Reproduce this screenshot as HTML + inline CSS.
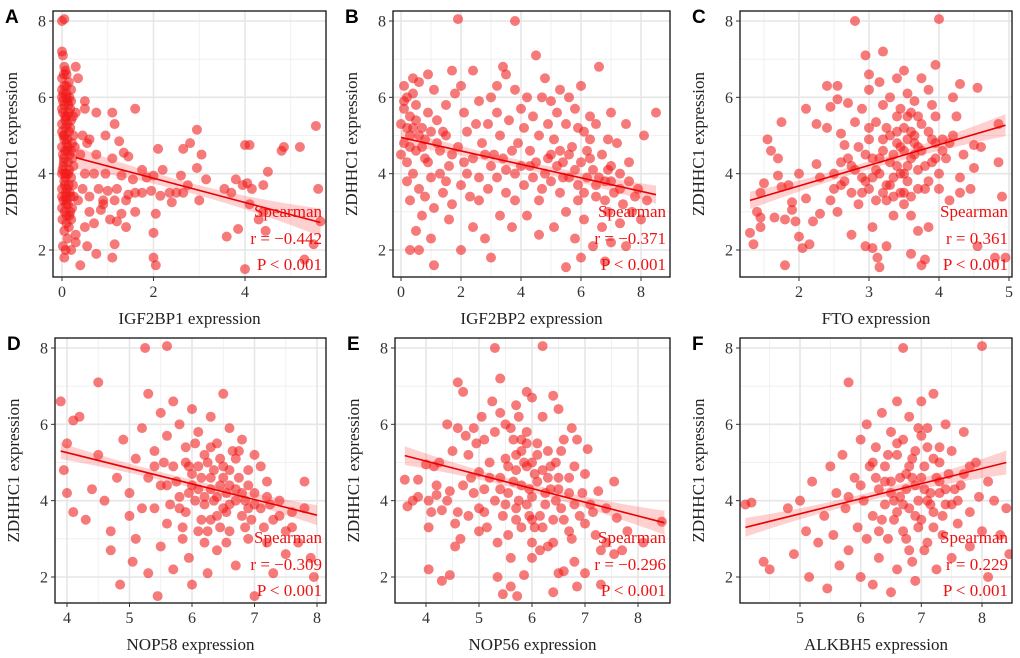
<!DOCTYPE html>
<html><head><meta charset="utf-8">
<style>
html,body{margin:0;padding:0;background:#fff;}
svg{display:block;font-family:"Liberation Serif",serif;}
.lt{font-family:"Liberation Sans",sans-serif;font-weight:bold;font-size:19px;fill:#000;}
</style></head>
<body>
<svg id="fig" width="1020" height="658" viewBox="0 0 1020 658"></svg>
<script>
// ---- data ----
const ptsA=[[0,8],[0.05,8.05],[0,7.2],[0.02,7.1],[0.05,6.8],[0.08,6.7],[0.1,6.6],[0,6.5],[0.15,6.4],[0.05,6.3],[0.2,6.2],[0.1,6.1],[0,6],[0.12,5.9],[0.05,5.8],[0.18,5.7],[0.02,5.6],[0.1,5.5],[0.2,5.4],[0,5.3],[0.08,5.2],[0.15,5.1],[0.03,5],[0.12,4.9],[0.22,4.8],[0,4.7],[0.07,4.6],[0.17,4.5],[0.04,4.4],[0.13,4.3],[0.25,4.2],[0.01,4.1],[0.1,4],[0.2,3.9],[0.05,3.8],[0.15,3.7],[0,3.6],[0.09,3.5],[0.19,3.4],[0.03,3.3],[0.13,3.2],[0.22,3.1],[0.06,3],[0.16,2.9],[0.01,2.8],[0.1,2.7],[0.05,2.5],[0.12,2.3],[0.02,2.1],[0.08,2.0],[0.05,1.8],[0.2,2.0],[0.1,6.3],[0.03,6.1],[0.14,5.8],[0.07,5.5],[0,5.1],[0.1,4.8],[0.2,4.6],[0.04,4.3],[0.14,4.0],[0.06,3.7],[0.17,3.5],[0.1,3.3],[0,3.1],[0.2,2.8],[0.12,5.3],[0.05,4.9],[0.16,4.1],[0.08,3.9],[0.02,4.5],[0.1,6.0],[0.18,5.2],[0.25,5.0],[0.3,6.8],[0.35,6.5],[0.3,5.6],[0.02,5.9],[0.07,5.4],[0.12,4.6],[0.03,4.2],[0.09,3.2],[0.15,2.6],[0.0,6.2],[0.06,4.0],[0.11,3.6],[0.18,3.0],[0.24,3.7],[0.22,4.4],[0.0,5.7],[0.05,5.0],[0.13,4.7],[0.0,4.0],[0.08,3.4],[0.15,5.6],[0.2,5.9],[0.0,3.4],[0.1,2.9],[0.26,3.4],[0.28,4.7],[0.04,6.6],[0.16,6.0],[0.24,5.5],
[0.5,5.9],[0.5,5.7],[0.75,5.6],[1.1,5.6],[1.6,5.7],[1.15,5.3],[0.95,5.0],[0.45,5.0],[0.6,4.9],[0.55,4.8],[0.75,4.5],[1.25,4.85],[1.35,4.55],[1.45,4.45],[1.1,4.4],[0.4,4.5],[0.5,4.0],[0.7,4.0],[0.95,4.0],[1.3,3.95],[1.55,3.85],[1.75,4.1],[2.1,4.65],[2.2,4.1],[1.85,3.9],[2.0,3.95],[2.65,4.65],[2.8,4.8],[2.6,3.95],[2.95,4.15],[3.05,4.5],[2.95,5.15],[3.15,3.85],[2.5,3.5],[2.35,3.5],[2.15,3.42],[1.95,3.55],[1.75,3.5],[1.6,3.5],[1.45,3.45],[1.2,3.6],[1.0,3.55],[0.9,3.3],[0.8,3.6],[0.6,3.4],[0.45,3.6],[0.35,3.3],[0.9,3.2],[0.85,3.05],[1.15,3.3],[1.4,3.3],[1.6,3.0],[1.3,2.95],[1.2,2.75],[1.05,2.8],[0.6,3.0],[0.7,2.7],[0.3,2.4],[0.5,2.6],[0.3,2.2],[0.55,2.1],[0.75,1.9],[1.1,1.8],[0.4,1.6],[1.4,2.6],[1.15,2.15],[2.0,2.45],[2.0,1.8],[2.05,1.6],[2.05,2.95],[2.4,3.25],[2.65,3.5],[2.75,3.7],[3.0,3.3],[3.55,3.6],[3.6,2.35],[3.7,3.5],[3.8,3.85],[3.85,2.55],[3.95,3.7],[4.0,4.75],[4.1,4.75],[4.05,3.75],[4.15,3.6],[4.1,3.2],[4.0,1.5],[4.4,3.7],[4.45,2.5],[4.5,4.05],[4.8,4.6],[4.85,4.7],[5.2,4.7],[5.55,5.25],[5.6,3.6],[5.5,2.15],[5.65,2.75],[5.3,1.75],[4.4,3.0],[4.3,2.8]];
const ptsB=[[0.1,5.7],[0.3,5.5],[0.5,5.8],[0.2,6.0],[0.6,6.4],[0.9,6.6],[1.1,6.2],[0.4,6.5],[0.7,5.2],[0.3,5.0],[0.1,4.8],[0.5,4.6],[0.8,4.9],[1.2,5.4],[1.5,5.8],[1.8,6.1],[2.0,6.3],[1.7,6.7],[2.4,6.7],[2.1,5.6],[2.6,5.9],[3.0,6.0],[3.2,6.3],[3.5,6.6],[3.8,6.2],[4.2,6.0],[4.5,7.1],[3.4,6.8],[1.9,8.05],[3.8,8.0],[4.8,6.5],[5.0,5.9],[5.3,6.2],[5.6,6.0],[6.0,6.3],[6.3,5.5],[6.6,6.8],[7.0,5.6],[7.5,5.3],[8.1,5.0],[8.5,5.6],[0.2,4.3],[0.4,4.0],[0.6,3.6],[0.9,4.3],[1.0,3.9],[1.3,4.6],[1.5,5.0],[1.6,4.2],[1.9,4.7],[2.2,5.1],[2.4,4.4],[2.7,4.8],[2.9,5.3],[3.1,4.5],[3.3,5.0],[3.6,5.4],[3.9,4.8],[4.1,5.2],[4.3,4.6],[4.6,5.0],[4.9,4.4],[5.1,4.9],[5.4,4.3],[5.7,4.7],[5.9,5.2],[6.2,4.6],[6.4,4.1],[6.7,4.5],[7.0,4.2],[7.3,4.0],[7.6,3.8],[7.9,3.6],[8.2,3.3],[0.3,3.3],[0.7,2.9],[1.1,3.1],[1.4,3.5],[1.7,3.2],[2.0,3.7],[2.3,3.4],[2.6,3.9],[2.9,3.6],[3.2,3.9],[3.5,3.5],[3.8,4.0],[4.1,3.7],[4.4,3.9],[4.7,3.6],[5.0,3.8],[5.3,3.5],[5.6,3.9],[5.9,3.7],[6.2,3.9],[6.5,3.4],[6.8,3.8],[7.1,3.5],[7.4,3.2],[7.7,3.0],[8.0,2.8],[0.5,2.5],[0.3,2.0],[0.6,2.0],[1.0,2.3],[1.6,2.8],[2.4,2.6],[2.8,2.3],[3.3,2.9],[3.7,2.6],[4.2,2.9],[4.6,2.4],[5.1,2.6],[5.5,3.0],[5.8,2.3],[6.1,2.8],[6.4,2.1],[6.7,2.6],[7.0,2.2],[7.3,2.7],[7.5,2.1],[5.5,1.55],[6.0,1.8],[6.8,1.7],[3.0,1.8],[2.0,2.0],[1.1,1.6],[4.0,5.7],[4.4,5.5],[4.7,6.0],[5.2,5.6],[5.5,5.3],[5.8,5.7],[6.1,5.1],[6.5,5.3],[6.9,4.9],[7.2,4.8],[3.0,4.2],[3.4,4.4],[4.8,4.0],[5.2,4.2],[6.0,4.3],[6.6,3.9],[2.2,4.0],[1.3,4.0],[0.8,4.4],[0.0,5.3],[0.0,4.5],[0.2,3.8],[0.4,5.2],[0.9,5.6],[1.4,5.1],[2.5,5.3],[3.7,4.6],[4.5,4.3],[5.6,4.5],[6.3,4.4],[6.9,4.1],[7.6,4.3],[0.1,6.3],[1.2,4.8],[2.8,4.5],[4.0,4.2],[5.3,4.6],[6.8,3.3],[0.2,5.2],[0.5,5.4],[0.3,4.7],[0.7,4.7],[0.1,5.9],[0.4,6.1],[0.6,5.0],[1.0,5.1],[1.7,4.5],[2.1,4.3],[3.5,4.1],[4.3,4.2],[5.0,4.5],[5.8,4.1],[6.1,3.5],[6.5,3.7],[7.0,3.8],[7.3,3.6],[7.8,3.4],[6.3,4.9],[5.4,3.9],[4.6,3.3],[3.8,3.3],[2.6,3.3],[1.5,3.8],[0.8,3.4],[5.9,3.3],[6.9,3.0],[4.9,5.3],[3.2,5.6]];
const ptsC=[[1.3,2.45],[1.35,2.15],[1.4,3.0],[1.45,3.5],[1.45,2.85],[1.5,3.75],[1.45,2.6],[1.55,4.9],[1.6,4.6],[1.65,2.85],[1.7,4.4],[1.7,3.95],[1.75,5.35],[1.75,3.65],[1.8,2.8],[1.8,1.6],[1.85,3.7],[1.9,3.25],[1.9,3.05],[1.95,2.75],[2.0,4.0],[2.0,2.35],[2.05,2.05],[2.1,5.7],[2.1,3.35],[2.15,2.15],[2.2,2.75],[2.25,5.3],[2.25,4.25],[2.3,3.9],[2.3,2.95],[2.4,6.3],[2.4,5.2],[2.45,5.75],[2.45,3.3],[2.5,4.0],[2.55,6.3],[2.55,5.95],[2.55,3.0],[2.6,5.05],[2.6,3.7],[2.65,4.75],[2.7,5.85],[2.7,4.4],[2.75,2.4],[2.75,3.5],[2.8,8.0],[2.8,5.35],[2.8,4.1],[2.85,4.7],[2.85,3.2],[2.9,5.7],[2.9,3.9],[2.95,7.1],[2.95,2.1],[2.95,4.5],[3.0,6.6],[3.0,6.2],[3.0,4.9],[3.0,3.6],[3.05,2.6],[3.05,2.05],[3.1,5.35],[3.1,4.1],[3.1,3.3],[3.12,1.8],[3.15,1.55],[3.15,6.4],[3.2,7.2],[3.2,5.8],[3.2,4.6],[3.25,3.7],[3.25,2.1],[3.3,6.0],[3.3,5.0],[3.3,4.3],[3.35,3.4],[3.35,2.9],[3.4,6.5],[3.4,5.5],[3.4,4.8],[3.45,4.0],[3.5,6.7],[3.5,5.2],[3.5,4.6],[3.5,3.2],[3.55,6.1],[3.55,4.9],[3.55,3.8],[3.6,5.6],[3.6,4.4],[3.6,2.9],[3.6,1.9],[3.65,5.9],[3.65,5.0],[3.7,4.7],[3.7,3.6],[3.7,2.5],[3.75,1.6],[3.75,6.5],[3.75,5.3],[3.8,4.2],[3.8,1.75],[3.85,6.2],[3.85,3.8],[3.85,2.6],[3.9,5.8],[3.9,4.9],[3.95,5.5],[3.95,4.4],[3.95,6.85],[4.0,8.05],[4.0,4.0],[4.0,3.6],[4.05,4.9],[4.1,4.4],[4.15,3.3],[4.2,5.0],[4.2,6.0],[4.25,5.5],[4.3,6.35],[4.3,3.9],[4.3,3.5],[4.35,4.5],[4.45,3.6],[4.5,4.75],[4.5,4.15],[4.55,6.25],[4.6,4.7],[4.85,4.3],[4.85,5.3],[4.9,3.4],[4.95,1.8],[4.8,1.8],[4.55,2.1],[3.3,3.7],[3.45,5.7],[3.2,4.9],[2.65,3.8],[3.55,4.2],[3.45,4.7],[3.6,5.1],[3.4,4.2],[3.15,4.0],[3.5,3.5],[3.65,4.5],[3.25,5.2],[3.05,4.4],[2.9,3.5],[3.35,4.5],[3.75,4.6],[3.55,5.5],[3.7,4.1],[3.25,3.3],[3.35,3.9],[3.45,3.5],[3.6,3.4],[3.8,3.6],[3.95,4.8],[3.85,5.1],[3.7,5.5],[3.4,5.1],[3.15,4.4],[2.95,3.8],[2.75,4.2],[3.05,3.9],[3.5,4.0],[3.65,4.8],[4.05,4.6],[4.15,4.8],[3.9,4.3],[2.5,3.6],[2.6,4.3],[3.2,3.5],[3.0,5.2]];
const ptsD=[[3.9,6.6],[3.95,4.8],[4.0,4.2],[4.0,5.5],[4.1,6.1],[4.2,6.2],[4.1,3.7],[4.3,3.5],[4.4,4.3],[4.5,7.1],[4.5,5.2],[4.6,4.0],[4.7,3.2],[4.7,2.7],[4.8,4.6],[4.85,1.8],[4.9,5.6],[5.0,4.2],[5.0,3.6],[5.05,2.4],[5.1,5.1],[5.1,3.0],[5.2,5.9],[5.25,8.0],[5.3,6.8],[5.3,4.6],[5.3,2.1],[5.4,5.3],[5.4,3.8],[5.45,1.5],[5.5,6.3],[5.5,4.4],[5.5,2.8],[5.6,8.05],[5.6,5.7],[5.6,3.4],[5.7,6.6],[5.7,4.9],[5.7,2.2],[5.8,6.0],[5.8,4.1],[5.85,3.0],[5.9,5.4],[5.9,3.7],[5.95,2.5],[6.0,6.4],[6.0,4.7],[6.0,1.8],[6.1,5.8],[6.1,4.3],[6.1,3.2],[6.2,5.2],[6.2,3.9],[6.25,2.1],[6.3,6.2],[6.3,4.6],[6.3,3.5],[6.4,5.5],[6.4,4.1],[6.4,2.7],[6.5,6.8],[6.5,4.9],[6.5,3.8],[6.6,5.9],[6.6,4.4],[6.6,3.2],[6.7,5.1],[6.7,4.0],[6.7,2.3],[6.8,5.6],[6.8,3.6],[6.9,4.8],[6.9,3.0],[7.0,5.2],[7.0,4.2],[7.0,1.5],[7.1,3.8],[7.2,4.5],[7.2,2.9],[7.3,3.5],[7.3,2.1],[7.4,4.0],[7.5,3.2],[7.5,2.6],[7.6,3.7],[7.7,2.9],[7.8,3.8],[7.8,4.5],[7.9,2.5],[7.95,2.0],[5.95,4.9],[6.15,4.6],[6.35,4.0],[6.55,3.7],[6.05,5.5],[6.25,5.0],[5.75,4.5],[6.45,4.4],[6.75,4.6],[6.85,4.0],[5.85,3.3],[6.2,2.9],[6.05,4.0],[6.35,4.8],[6.55,4.2],[6.95,3.5],[5.65,3.9],[6.15,3.5],[6.65,5.3],[7.1,4.9],[5.55,5.0],[6.45,3.3],[6.9,4.4],[7.25,3.9],[6.1,4.9],[6.3,4.3],[6.5,4.6],[6.7,4.3],[6.2,4.1],[6.0,4.4],[5.8,3.8],[6.4,3.6],[6.6,3.9],[6.8,4.2],[7.0,3.9],[7.2,4.1],[7.4,3.6],[6.9,3.8],[6.6,4.8],[6.3,5.4],[5.9,5.0],[5.6,4.4],[5.4,4.9],[5.2,3.8],[6.25,3.2],[6.55,2.9],[6.85,3.3],[7.15,3.3],[7.6,3.3],[5.95,4.2],[6.45,5.1],[6.75,5.3]];
const ptsE=[[3.6,4.55],[3.65,3.85],[3.75,4.0],[3.85,4.55],[3.85,4.1],[4.0,4.95],[4.05,4.0],[4.05,3.3],[4.05,2.2],[4.1,3.7],[4.15,4.9],[4.2,4.4],[4.2,4.15],[4.25,5.0],[4.3,3.75],[4.3,1.9],[4.4,6.0],[4.4,4.0],[4.45,4.25],[4.45,2.05],[4.5,5.3],[4.55,3.4],[4.55,2.8],[4.6,7.1],[4.6,5.9],[4.6,3.7],[4.65,3.0],[4.7,6.85],[4.7,4.4],[4.75,5.7],[4.8,5.2],[4.8,3.6],[4.85,4.6],[4.9,5.9],[4.9,4.2],[4.95,5.5],[5.0,4.75],[5.0,3.8],[5.0,3.2],[5.05,6.2],[5.1,5.6],[5.1,4.3],[5.15,3.3],[5.2,5.0],[5.25,6.6],[5.3,8.0],[5.3,5.8],[5.3,4.0],[5.35,2.9],[5.35,2.0],[5.4,7.2],[5.4,6.3],[5.4,4.6],[5.45,3.6],[5.45,1.55],[5.5,6.0],[5.5,5.1],[5.55,4.2],[5.6,2.5],[5.6,1.75],[5.65,5.6],[5.7,6.5],[5.7,4.8],[5.7,3.8],[5.72,1.5],[5.75,6.2],[5.8,5.3],[5.8,4.4],[5.8,3.3],[5.85,2.05],[5.9,6.85],[5.9,5.8],[5.9,4.9],[5.95,3.6],[6.0,6.7],[6.0,5.0],[6.0,4.1],[6.0,2.5],[6.05,3.3],[6.1,5.5],[6.1,4.5],[6.15,2.7],[6.2,6.2],[6.2,8.05],[6.2,4.8],[6.25,3.9],[6.3,5.3],[6.3,2.8],[6.35,4.3],[6.4,6.75],[6.4,3.5],[6.4,1.6],[6.45,5.0],[6.5,6.4],[6.5,4.6],[6.5,2.1],[6.55,3.8],[6.6,5.6],[6.6,2.15],[6.7,4.2],[6.7,3.2],[6.75,5.9],[6.8,4.9],[6.8,2.4],[6.85,5.6],[6.85,1.75],[6.9,3.6],[7.0,4.7],[7.0,2.1],[7.05,5.35],[7.1,3.9],[7.2,3.1],[7.25,4.25],[7.3,2.7],[7.3,1.8],[7.4,3.8],[7.4,2.9],[7.55,4.5],[7.6,3.55],[7.7,2.7],[7.8,3.2],[8.1,2.9],[8.45,3.45],[7.55,2.6],[5.75,4.0],[6.05,4.7],[5.85,5.0],[6.25,4.2],[5.55,4.9],[5.95,4.3],[6.15,3.6],[5.65,4.5],[6.35,4.9],[6.0,3.5],[5.8,5.6],[6.45,4.0],[5.5,3.9],[5.7,5.2],[5.6,5.9],[5.9,5.5],[6.1,5.2],[6.3,4.6],[6.5,4.3],[6.6,3.5],[6.8,3.9],[6.95,4.2],[6.7,4.6],[6.2,3.3],[5.9,3.9],[5.4,4.3],[5.2,4.6],[5.1,3.7],[6.0,2.9],[6.4,2.9],[6.75,3.0],[7.0,3.4],[7.15,3.7],[5.7,3.5],[5.55,3.1],[6.55,5.3]];
const ptsF=[[4.1,3.9],[4.2,3.95],[4.4,2.4],[4.5,2.2],[4.8,3.8],[4.9,2.6],[5.0,4.0],[5.1,3.2],[5.15,2.0],[5.2,4.5],[5.3,2.9],[5.4,3.6],[5.45,1.7],[5.5,4.9],[5.55,3.1],[5.6,4.2],[5.65,2.3],[5.7,5.2],[5.75,3.8],[5.8,7.1],[5.8,2.7],[5.9,4.6],[5.95,3.3],[6.0,5.6],[6.0,2.0],[6.05,4.0],[6.1,6.0],[6.1,3.0],[6.15,4.9],[6.2,3.6],[6.2,1.8],[6.25,5.4],[6.3,4.3],[6.3,2.5],[6.35,6.3],[6.4,3.9],[6.4,4.9],[6.45,3.0],[6.5,5.8],[6.5,4.5],[6.5,1.6],[6.55,3.5],[6.6,6.6],[6.6,5.2],[6.6,2.2],[6.65,4.1],[6.7,8.0],[6.7,5.6],[6.7,3.2],[6.75,4.7],[6.8,6.2],[6.8,3.8],[6.8,2.7],[6.85,5.1],[6.9,4.4],[6.9,1.9],[6.95,5.9],[7.0,3.5],[7.0,6.6],[7.05,4.9],[7.1,2.9],[7.1,5.4],[7.15,4.2],[7.2,6.8],[7.2,3.7],[7.25,2.2],[7.3,5.0],[7.3,4.5],[7.35,3.1],[7.4,6.0],[7.4,3.9],[7.5,5.3],[7.5,2.5],[7.55,4.3],[7.6,3.4],[7.7,5.8],[7.7,4.7],[7.8,3.7],[7.8,2.8],[7.9,5.0],[7.95,4.1],[8.0,3.2],[8.0,8.05],[8.1,4.5],[8.1,2.0],[8.2,4.0],[8.3,3.1],[8.4,3.8],[8.45,2.6],[6.95,4.0],[6.85,4.6],[6.65,4.6],[7.25,4.6],[7.05,4.3],[6.45,5.2],[7.0,5.7],[7.45,4.7],[6.35,3.5],[7.35,3.6],[6.75,4.3],[7.15,3.9],[6.55,4.0],[6.9,5.3],[7.2,5.1],[6.6,3.7],[7.4,4.3],[6.25,4.6],[7.6,4.0],[6.95,3.3],[6.8,4.9],[7.0,4.6],[7.1,4.0],[6.7,3.9],[6.5,4.2],[6.9,3.6],[7.3,4.2],[7.5,3.9],[6.4,4.5],[6.6,5.5],[7.1,5.9],[7.3,5.4],[6.2,5.0],[6.0,4.4],[5.8,4.1],[6.85,2.4],[7.05,2.7],[6.75,3.0],[7.65,4.4],[7.8,4.9],[6.3,3.2],[7.2,3.3]];
const fitA=[[0.3,4.42],[5.65,2.72]], fitB=[[0,4.95],[8.5,3.45]], fitC=[[1.3,3.3],[4.95,5.27]];
const fitD=[[3.9,5.3],[8,3.62]], fitE=[[3.6,5.18],[8.5,3.42]], fitF=[[4.1,3.3],[8.4,5.0]];
const rLabels=["r = \u22120.442","r = \u22120.371","r = 0.361","r = \u22120.309","r = \u22120.296","r = 0.229"];
const xTitles=["IGF2BP1 expression","IGF2BP2 expression","FTO expression","NOP58 expression","NOP56 expression","ALKBH5 expression"];
const xTicksA=[0,2,4], xTicksB=[0,2,4,6,8], xTicksC=[2,3,4,5], xTicksD=[4,5,6,7,8], xTicksE=[4,5,6,7,8], xTicksF=[5,6,7,8];
const yTicks=[2,4,6,8];

// ---- layout ----
const panels=[
 {L:'A',box:[53,11,326,277],xa:[0,62],xb:[4,245],ya:[8,21],yb:[2,250],pts:ptsA,fit:fitA,ticks:xTicksA,minor:[1,3,5],bw:[5,14]},
 {L:'B',box:[393,11,670,277],xa:[0,401],xb:[8,641],ya:[8,21],yb:[2,250],pts:ptsB,fit:fitB,ticks:xTicksB,minor:[1,3,5,7],bw:[4,9]},
 {L:'C',box:[740,11,1012,277],xa:[2,799],xb:[4,939],ya:[8,21],yb:[2,250],pts:ptsC,fit:fitC,ticks:xTicksC,minor:[1.5,2.5,3.5,4.5],bw:[4,11]},
 {L:'D',box:[55,338,326,603],xa:[4,67],xb:[8,317],ya:[8,348],yb:[2,577],pts:ptsD,fit:fitD,ticks:xTicksD,minor:[4.5,5.5,6.5,7.5],bw:[4,10]},
 {L:'E',box:[395,338,670,603],xa:[4,426],xb:[8,638],ya:[8,348],yb:[2,577],pts:ptsE,fit:fitE,ticks:xTicksE,minor:[4.5,5.5,6.5,7.5],bw:[4,12]},
 {L:'F',box:[740,338,1012,603],xa:[5,800],xb:[8,982],ya:[8,348],yb:[2,577],pts:ptsF,fit:fitF,ticks:xTicksF,minor:[4.5,5.5,6.5,7.5],bw:[4,12]}
];
const NS='http://www.w3.org/2000/svg';
const svg=document.getElementById('fig');
function mk(tag,attrs,parent,text){const e=document.createElementNS(NS,tag);for(const k in attrs)e.setAttribute(k,attrs[k]);if(text!==undefined)e.textContent=text;(parent||svg).appendChild(e);return e;}

panels.forEach((p,i)=>{
 const [x0,y0,x1,y1]=p.box;
 const sx=v=>p.xa[1]+(v-p.xa[0])*(p.xb[1]-p.xa[1])/(p.xb[0]-p.xa[0]);
 const sy=v=>p.ya[1]+(v-p.ya[0])*(p.yb[1]-p.ya[1])/(p.yb[0]-p.ya[0]);
 const g=mk('g',{});
 
 
 const cp='cp'+i;
 const cl=mk('clipPath',{id:cp},g);mk('rect',{x:x0,y:y0,width:x1-x0,height:y1-y0},cl);
 const grid=mk('g',{'clip-path':'url(#'+cp+')'},g);
 
 
 [1,3,5,7].forEach(v=>mk('line',{x1:x0,x2:x1,y1:sy(v),y2:sy(v),stroke:'#eeeeee','stroke-width':0.8},grid));
 p.minor.forEach(v=>mk('line',{x1:sx(v),x2:sx(v),y1:y0,y2:y1,stroke:'#eeeeee','stroke-width':0.8},grid));
 yTicks.forEach(v=>mk('line',{x1:x0,x2:x1,y1:sy(v),y2:sy(v),stroke:'#e6e6e6','stroke-width':1.6},grid));
 p.ticks.forEach(v=>mk('line',{x1:sx(v),x2:sx(v),y1:y0,y2:y1,stroke:'#e6e6e6','stroke-width':1.6},grid));
 const pg=mk('g',{'clip-path':'url(#'+cp+')'},g);
 
 
 p.pts.forEach(d=>{const c=mk('circle',{cx:sx(d[0]),cy:sy(d[1]),r:5,fill:'#f21a1a','fill-opacity':0.58},pg);
  
  });
 const [a,b]=p.fit;const n=20;const up=[],dn=[];
 for(let k=0;k<=n;k++){const t=k/n;const xv=a[0]+(b[0]-a[0])*t;const yv=a[1]+(b[1]-a[1])*t;
  const hw=p.bw[0]+(p.bw[1]-p.bw[0])*Math.pow(Math.abs(t-0.45)/0.55,2);
  up.push(sx(xv)+','+(sy(yv)-hw));dn.unshift(sx(xv)+','+(sy(yv)+hw));}
 const band=mk('polygon',{points:up.concat(dn).join(' '),fill:'#f44',"fill-opacity":0.25},g);
 
 
 const fl=mk('line',{x1:sx(a[0]),y1:sy(a[1]),x2:sx(b[0]),y2:sy(b[1]),stroke:'#e80000','stroke-width':1.6},g);
 
 
 mk('rect',{x:x0,y:y0,width:x1-x0,height:y1-y0,fill:'none',stroke:'#111','stroke-width':1.3},g);
 yTicks.forEach(v=>{mk('line',{x1:x0-4,x2:x0,y1:sy(v),y2:sy(v),stroke:'#333'},g);
  const t=mk('text',{x:x0-7,y:sy(v)+5.5,'text-anchor':'end','font-size':16,fill:'#333'},g,String(v));
  
  });
 p.ticks.forEach(v=>{mk('line',{x1:sx(v),x2:sx(v),y1:y1,y2:y1+4,stroke:'#333'},g);
  const t=mk('text',{x:sx(v),y:y1+20,'text-anchor':'middle','font-size':16,fill:'#333'},g,String(v));
  
  });
 const xt=mk('text',{x:(x0+x1)/2,y:y1+47,'text-anchor':'middle','font-size':17,fill:'#222'},g,xTitles[i]);
 
 
 const yx=x0-36,yy=(y0+y1)/2;
 const yt=mk('text',{x:yx,y:yy,transform:'rotate(-90 '+yx+' '+yy+')','text-anchor':'middle','font-size':17,fill:'#222'},g,'ZDHHC1 expression');
 
 
 const lt=mk('text',{x:x0-48,y:y0+12,class:'lt'},g,p.L);
 
 
 const ann=[['Spearman',y1-60],[rLabels[i],y1-33],['P < 0.001',y1-7]];
 ann.forEach(([s,yv])=>{const t=mk('text',{x:x1-4,y:yv,'text-anchor':'end','font-size':17,fill:'#ee1111'},g,s);
  
  });
});
</script>
</body></html>
